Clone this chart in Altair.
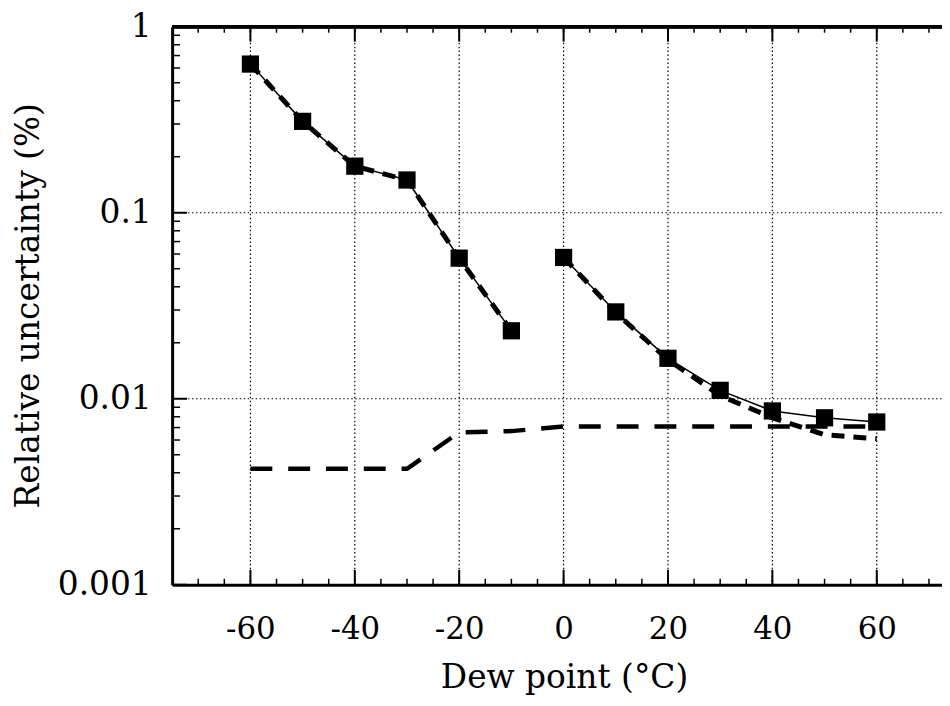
import altair as alt
import pandas as pd

# ---- data ----
x_low = [-60, -50, -40, -30, -20, -10]
sq_low = [0.63, 0.31, 0.178, 0.15, 0.057, 0.0232]
x_high = [0, 10, 20, 30, 40, 50, 60]
sq_high = [0.0575, 0.0293, 0.0165, 0.0111, 0.0086, 0.0079, 0.0075]
dash_high = [0.0575, 0.0290, 0.0162, 0.0104, 0.0079, 0.0064, 0.0061]
x_long = [-60, -50, -40, -30, -20, -10, 0, 10, 20, 30, 40, 50, 60]
long_dash = [0.0042, 0.0042, 0.0042, 0.0042, 0.0066, 0.0067, 0.0071,
             0.0071, 0.0071, 0.0071, 0.0071, 0.0071, 0.0071]

x_tick_labels = [-60, -40, -20, 0, 20, 40, 60]
y_tick_labels = [0.001, 0.01, 0.1, 1]
y_grid = [0.01, 0.1]
x_minor = [-70, -65, -60, -55, -50, -45, -40, -35, -30, -25, -20, -15, -10, -5,
           0, 5, 10, 15, 20, 25, 30, 35, 40, 45, 50, 55, 60, 65, 70]
y_minor = [0.002, 0.003, 0.004, 0.005, 0.006, 0.007, 0.008, 0.009,
           0.02, 0.03, 0.04, 0.05, 0.06, 0.07, 0.08, 0.09,
           0.2, 0.3, 0.4, 0.5, 0.6, 0.7, 0.8, 0.9]

W, H = 774, 561
FONT = "DejaVu Serif"

sq_df = pd.DataFrame({
    "x": x_low + x_high,
    "y": sq_low + sq_high,
    "seg": ["a"] * len(x_low) + ["b"] * len(x_high),
})
dash_df = pd.DataFrame({
    "x": x_low + x_high,
    "y": sq_low + dash_high,
    "seg": ["a"] * len(x_low) + ["b"] * len(x_high),
})
long_df = pd.DataFrame({"x": x_long, "y": long_dash})
xgrid_df = pd.DataFrame({"x": x_tick_labels})
ygrid_df = pd.DataFrame({"y": y_grid})
xminor_df = pd.DataFrame({"x": x_minor})
yminor_df = pd.DataFrame({"y": y_minor})
ymajor_df = pd.DataFrame({"y": y_tick_labels})

xs = alt.Scale(domain=[-75, 72.5], nice=False, zero=False)
ys = alt.Scale(type="log", domain=[0.001, 1], nice=False)

xaxis = alt.Axis(
    values=x_tick_labels, title="Dew point (°C)", grid=False, ticks=False,
    domainColor="black", domainWidth=3, labelExpr="toString(datum.value)",
    labelFont=FONT, labelFontSize=31, labelColor="black",
    labelPadding=30, labelFlush=False, labelOverlap=False,
    titleFont=FONT, titleFontSize=33, titleFontWeight="normal",
    titleColor="black", titleX=394, titleY=103, titleBaseline="alphabetic",
    titleAlign="center",
)
yaxis = alt.Axis(
    values=y_tick_labels, title="Relative uncertainty (%)", grid=False, ticks=False,
    domainColor="black", domainWidth=3, labelExpr="toString(datum.value)",
    labelFont=FONT, labelFontSize=33, labelColor="black",
    labelPadding=21, labelFlush=False, labelOverlap=False,
    titleFont=FONT, titleFontSize=33, titleFontWeight="normal",
    titleColor="black", titleX=-144, titleY=280, titleBaseline="middle",
    titleAlign="center", titleAngle=270,
)


def X():
    return alt.X("x:Q", scale=xs, axis=xaxis)


def Y():
    return alt.Y("y:Q", scale=ys, axis=yaxis)


dot = [1.5, 2.5]
vgrid = alt.Chart(xgrid_df).mark_rule(color="black", strokeWidth=1.2, strokeDash=dot).encode(
    x=X(), y=alt.value(0), y2=alt.value(H))
hgrid = alt.Chart(ygrid_df).mark_rule(color="black", strokeWidth=1.2, strokeDash=dot).encode(
    y=Y(), x=alt.value(0), x2=alt.value(W))

bot_minor = alt.Chart(xminor_df).mark_rule(color="black", strokeWidth=1.5).encode(
    x=X(), y=alt.value(H), y2=alt.value(H - 6))
top_minor = alt.Chart(xminor_df).mark_rule(color="black", strokeWidth=1.5).encode(
    x=X(), y=alt.value(0), y2=alt.value(6))
bot_major = alt.Chart(xgrid_df).mark_rule(color="black", strokeWidth=2).encode(
    x=X(), y=alt.value(H), y2=alt.value(H - 15))
top_major = alt.Chart(xgrid_df).mark_rule(color="black", strokeWidth=2).encode(
    x=X(), y=alt.value(0), y2=alt.value(15))
left_minor = alt.Chart(yminor_df).mark_rule(color="black", strokeWidth=1.5).encode(
    y=Y(), x=alt.value(0), x2=alt.value(8))
left_major = alt.Chart(ymajor_df).mark_rule(color="black", strokeWidth=2).encode(
    y=Y(), x=alt.value(0), x2=alt.value(15))
top_border = alt.Chart(xgrid_df).mark_rule(color="black", strokeWidth=3).encode(
    y=alt.value(0), x=alt.value(0), x2=alt.value(W))

long_line = alt.Chart(long_df).mark_line(
    color="black", strokeWidth=4.5, strokeDash=[22, 16]).encode(x=X(), y=Y())
dash_line = alt.Chart(dash_df).mark_line(
    color="black", strokeWidth=5, strokeDash=[13, 9]).encode(x=X(), y=Y(), detail="seg:N")
solid_line = alt.Chart(sq_df).mark_line(
    color="black", strokeWidth=1.5).encode(x=X(), y=Y(), detail="seg:N")
squares = alt.Chart(sq_df).mark_square(
    color="black", size=300, opacity=1, filled=True).encode(x=X(), y=Y())

chart = alt.layer(
    vgrid, hgrid, bot_minor, top_minor, bot_major, top_major, left_minor, left_major,
    top_border, long_line, dash_line, solid_line, squares,
).properties(
    width=W, height=H,
    autosize=alt.AutoSizeParams(type="none"),
    padding={"left": 165, "top": 17, "right": 0, "bottom": 112},
    background="white",
).configure_view(strokeWidth=0)

chart.save("out.html", embed_options={"renderer": "svg", "actions": False})
